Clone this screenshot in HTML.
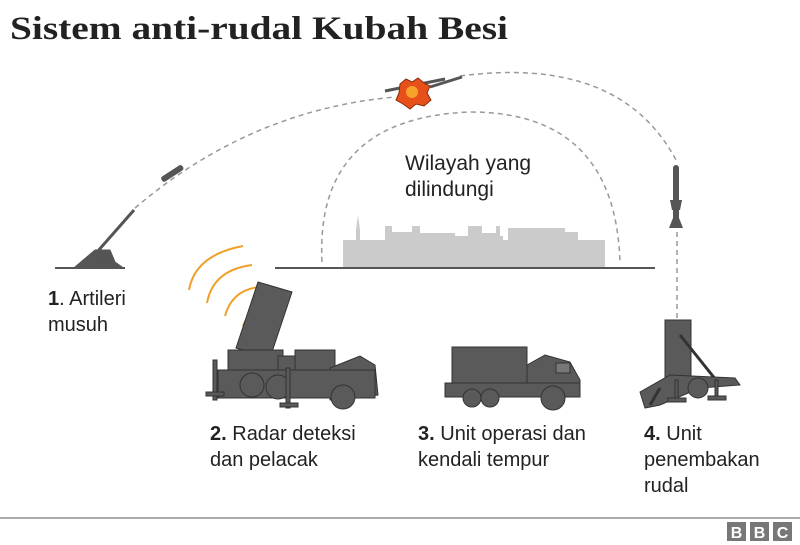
<!DOCTYPE html>
<html><head><meta charset="utf-8"><style>
html,body{margin:0;padding:0;background:#fff;}
svg{display:block;}
text{font-family:"Liberation Sans",sans-serif;fill:#222;}
</style></head><body>
<svg width="800" height="545" viewBox="0 0 800 545" xmlns="http://www.w3.org/2000/svg">
<text x="10" y="39" textLength="498" lengthAdjust="spacingAndGlyphs" style="font-family:'Liberation Serif',serif;font-weight:bold;font-size:33px;fill:#222">Sistem anti-rudal Kubah Besi</text>
<!-- trajectories -->
<g fill="none" stroke="#999" stroke-width="1.5" stroke-dasharray="5,4">
<path d="M135,208 Q250,110 395,97"/>
<path d="M460,76 Q620,55 676,160"/>
<path d="M322,262 Q315,118 470,112 Q615,112 620,262"/>
<path d="M677,232 L677,318"/>
</g>
<!-- city -->
<path fill="#cbcbcb" d="M343,268 V240 H356 V230 L358,215 L360,230 V240 H385 V226 H392 V232 H412 V226 H420 V233 H455 V236 H468 V226 H482 V233 H496 V226 H500 V236 H503 V240 H508 V228 H565 V232 H578 V240 H605 V268 Z"/>
<!-- ground -->
<g stroke="#555" stroke-width="2"><line x1="55" y1="268" x2="125" y2="268"/><line x1="275" y1="268" x2="655" y2="268"/></g>
<text x="405" y="170" font-size="21">Wilayah yang</text>
<text x="405" y="196" font-size="21">dilindungi</text>
<!-- artillery -->
<g fill="#555" stroke="#555">
<line x1="90" y1="260" x2="134" y2="210" stroke-width="3"/>
<path d="M75,267 L95,250 L110,250 L115,262 L122,267 Z"/>
<circle cx="104" cy="258" r="5"/>
<rect x="160" y="171" width="24" height="5" rx="2" transform="rotate(-33 172 173)"/>
</g>
<!-- explosion + missiles -->
<g>
<line x1="385" y1="91" x2="445" y2="79" stroke="#555" stroke-width="3"/>
<line x1="430" y1="87" x2="462" y2="77" stroke="#555" stroke-width="3"/>
<path d="M400,84 L406,79 L412,82 L418,78 L424,83 L430,86 L427,93 L431,100 L424,106 L416,104 L410,109 L403,104 L396,100 L399,93 Z" fill="#e8501a" stroke="#8a2a0a"/>
<circle cx="412" cy="92" r="6" fill="#f6a22b"/>
</g>
<!-- interceptor rocket -->
<g fill="#555"><rect x="673" y="165" width="6" height="60" rx="3"/><path d="M670,200 L682,200 L680,210 L672,210Z"/><path d="M669,228 L683,228 L679,218 L673,218Z"/></g>
<!-- radar waves -->
<g fill="none" stroke="#f0a028" stroke-width="2">
<path d="M189,290 Q195,255 243,246"/>
<path d="M207,303 Q213,270 252,265"/>
<path d="M225,316 Q232,290 259,287"/>
<path d="M243,326 Q250,308 268,307"/>
</g>
<!-- radar truck -->
<g fill="#5a5a5a" stroke="#333" stroke-width="1">
<path d="M258,282 L292,292 L270,358 L236,348 Z"/>
<rect x="228" y="350" width="55" height="22"/>
<rect x="278" y="356" width="35" height="28"/>
<rect x="295" y="350" width="40" height="32"/>
<path d="M330,368 L360,356 L375,365 L378,395 L330,400 Z"/>
<rect x="218" y="370" width="157" height="28"/>
<circle cx="252" cy="385" r="12"/><circle cx="278" cy="387" r="12"/><circle cx="343" cy="397" r="12"/>
<rect x="213" y="360" width="4" height="40"/><rect x="206" y="392" width="18" height="4"/>
<rect x="286" y="368" width="4" height="40"/><rect x="280" y="403" width="18" height="4"/>
</g>
<!-- ops truck -->
<g fill="#5a5a5a" stroke="#333" stroke-width="1">
<rect x="452" y="347" width="75" height="40"/>
<path d="M527,365 L545,355 L570,362 L580,380 L580,395 L527,395 Z"/>
<rect x="445" y="383" width="135" height="14"/>
<circle cx="472" cy="398" r="9"/><circle cx="490" cy="398" r="9"/><circle cx="553" cy="398" r="12"/>
<rect x="556" y="363" width="14" height="10" fill="#777"/>
</g>
<!-- launcher -->
<g fill="#5a5a5a" stroke="#333" stroke-width="1">
<rect x="665" y="320" width="26" height="58"/>
<line x1="680" y1="335" x2="720" y2="385" stroke-width="3"/>
<path d="M640,392 L670,375 L735,378 L740,385 L700,388 L660,405 L645,408 Z"/>
<circle cx="698" cy="388" r="10"/>
<line x1="660" y1="388" x2="650" y2="405" stroke-width="3"/>
<rect x="675" y="380" width="3" height="20"/><rect x="668" y="398" width="18" height="4"/>
<rect x="715" y="380" width="3" height="18"/><rect x="708" y="396" width="18" height="4"/>
</g>
<!-- labels -->
<g font-size="20">
<text x="48" y="305"><tspan font-weight="bold">1</tspan>. Artileri</text>
<text x="48" y="331">musuh</text>
<text x="210" y="440"><tspan font-weight="bold">2.</tspan> Radar deteksi</text>
<text x="210" y="466">dan pelacak</text>
<text x="418" y="440"><tspan font-weight="bold">3.</tspan> Unit operasi dan</text>
<text x="418" y="466">kendali tempur</text>
<text x="644" y="440"><tspan font-weight="bold">4.</tspan> Unit</text>
<text x="644" y="466">penembakan</text>
<text x="644" y="492">rudal</text>
</g>
<line x1="0" y1="518" x2="800" y2="518" stroke="#aaa" stroke-width="2"/>
<g>
<rect x="727" y="522" width="19" height="19" fill="#777"/><rect x="750" y="522" width="19" height="19" fill="#777"/><rect x="773" y="522" width="19" height="19" fill="#777"/>
<text x="736.5" y="538" font-size="16" font-weight="bold" text-anchor="middle" style="fill:#fff">B</text>
<text x="759.5" y="538" font-size="16" font-weight="bold" text-anchor="middle" style="fill:#fff">B</text>
<text x="782.5" y="538" font-size="16" font-weight="bold" text-anchor="middle" style="fill:#fff">C</text>
</g>
</svg>
</body></html>
